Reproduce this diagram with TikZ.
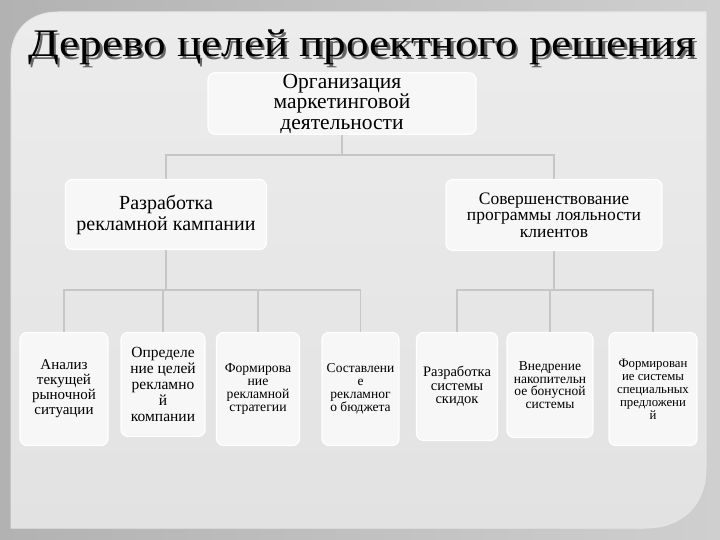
\documentclass[tikz,border=0pt]{standalone}
\usepackage{fontspec}
\setmainfont{Liberation Serif}
\definecolor{outerL}{HTML}{B2B2B2}
\definecolor{outerR}{HTML}{CFCFCF}
\definecolor{panelA}{HTML}{E2E2E2}
\definecolor{panelB}{HTML}{ECECEC}
\definecolor{boxfill}{HTML}{F7F7F7}
\definecolor{linecol}{HTML}{C6C6C6}
\newcommand{\fs}[2]{\fontsize{#1bp}{#2bp}\selectfont}
\tikzset{
  box/.style={draw=white, line width=1.2bp, fill=boxfill, rounded corners=7bp, align=center, inner sep=1bp},
  conn/.style={draw=linecol, line width=1.5bp},
  titletext/.style={font=\fs{39}{41}},
}
\begin{document}
\begin{tikzpicture}[x=1bp, y=-1bp]
\useasboundingbox (0,0) rectangle (720,540);
\shade[left color=outerL, right color=outerR] (0,0) rectangle (720,540);
\shade[top color=panelB, bottom color=panelA, draw=white!80!gray, line width=1bp]
  (11,528) -- (11,58) .. controls (11,30) and (30,12) .. (58,12) -- (706,12) -- (706,468)
  .. controls (706,505) and (682,528) .. (645,528) -- cycle;
% title
\node[titletext, text=black!60] (titleshadow) at (364.5,50) {\scalebox{1.16}[1]{Дерево целей проектного решения}};
\node[titletext, text=black] (title) at (362,47.5) {\scalebox{1.16}[1]{Дерево целей проектного решения}};
% connectors
\coordinate (tbar) at (342,155);
\coordinate (abar) at (166,290);
\coordinate (bbar) at (554,290);
\draw[conn] (tbar) -| (166,179);
\draw[conn] (tbar) -| (554,179);
% top
\node[box, font=\fs{21.5}{20.5}, minimum width=268bp, minimum height=61bp] (top) at (342,103.5) {Организация\\маркетинговой\\деятельности};
% level 2
\node[box, font=\fs{20}{21}, minimum width=201bp, minimum height=70bp] (la) at (166,214.5) {Разработка\\рекламной кампании};
\node[box, font=\fs{17.5}{16.5}, minimum width=216bp, minimum height=71bp] (lb) at (554,215) {Совершенствование\\программы лояльности\\клиентов};
% leaves
\node[box, font=\fs{15}{15}, minimum width=88bp, minimum height=113bp] (a1) at (64,389) {Анализ\\текущей\\рыночной\\ситуации};
\node[box, font=\fs{15.5}{16}, minimum width=84bp, minimum height=104bp] (a2) at (163,384.5) {Определе\\ние целей\\рекламно\\й\\компании};
\node[box, font=\fs{13.7}{12.7}, minimum width=83bp, minimum height=113bp] (a3) at (258,389) {Формирова\\ние\\рекламной\\стратегии};
\node[box, font=\fs{13.5}{13}, minimum width=77bp, minimum height=113bp] (a4) at (360.5,389) {Составлени\\е\\рекламног\\о бюджета};
\node[box, font=\fs{14.5}{13.5}, minimum width=81bp, minimum height=108bp] (b1) at (457,386.5) {Разработка\\системы\\скидок};
\node[box, font=\fs{13.5}{12.5}, minimum width=86bp, minimum height=105bp] (b2) at (550,385) {Внедрение\\накопительн\\ое бонусной\\системы};
\node[box, font=\fs{12.8}{13}, minimum width=88bp, minimum height=113bp] (b3) at (653,389) {Формирован\\ие системы\\специальных\\предложени\\й};
\draw[conn] (la.south) -- (abar);
\draw[conn] (lb.south) -- (bbar);
\foreach \n in {a1,a2,a3,a4} \draw[conn] (abar) -| (\n.north);
\foreach \n in {b1,b2,b3} \draw[conn] (bbar) -| (\n.north);
\draw[conn] (top.south) -- (tbar);
\end{tikzpicture}
\end{document}
